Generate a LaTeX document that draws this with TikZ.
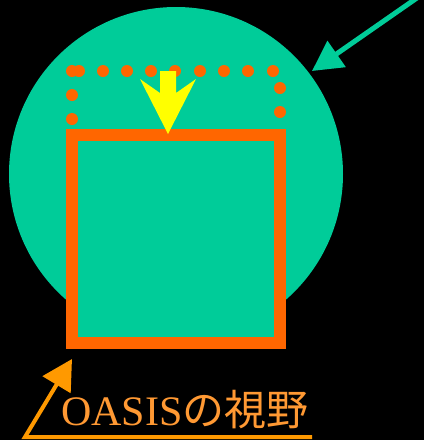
\documentclass[tikz,border=0pt]{standalone}
\usepackage{fontspec}
\setmainfont{Liberation Serif}
\newfontfamily\jpfont{Noto Sans CJK JP}
\usetikzlibrary{arrows.meta}
\definecolor{teal1}{HTML}{00CC99}
\definecolor{rectorange}{HTML}{FF6600}
\definecolor{lineorange}{HTML}{FF9900}
\definecolor{txtorange}{HTML}{FF9933}
\definecolor{yel}{HTML}{FFFF00}
\tikzset{
  dotmark/.style={fill=rectorange},
  greenarrow/.style={draw=teal1, line width=5pt, -{Triangle[length=30pt,width=31pt]}},
  orangearrow/.style={draw=lineorange, line width=4pt, miter limit=10, -{Triangle[length=30pt,width=32pt]}},
  label/.style={text=txtorange, font=\fontsize{42}{46}\selectfont, inner sep=0pt}
}
\begin{document}
\begin{tikzpicture}[x=1pt,y=-1pt]
\fill[black] (0,0) rectangle (424,440);
\useasboundingbox (0,0) rectangle (424,440);
\clip (0,0) rectangle (424,440);
% circle
\fill[teal1] (176,174) circle[radius=167];
% rectangle
\draw[rectorange, fill=teal1, line width=12pt] (72,135) rectangle (280,343);
% dots
\foreach \x in {72,79,103,127,151,175,200,224,248,273}
  \fill[dotmark] (\x,71) circle[radius=6];
\foreach \y in {95,119} \fill[dotmark] (72,\y) circle[radius=6];
\foreach \y in {88,112} \fill[dotmark] (280,\y) circle[radius=6];
% yellow arrow
\fill[yel] (160,71) -- (176,71) -- (176,93) -- (196,79) -- (168,134) -- (140,79) -- (160,93) -- cycle;
% green arrow
\coordinate (gs) at (437,-16);
\coordinate (gt) at (312,71);
\draw[greenarrow] (gs) -- (gt);
% label
\node[label, anchor=base west] (lab) at (61,425) {OASIS{\jpfont の視野}};
\coordinate (oc) at (25,437);
\coordinate (oe) at (312,437);
\coordinate (ot) at (72,359);
\draw[orangearrow] (oe) -- (oc) -- (ot);
\end{tikzpicture}
\end{document}
